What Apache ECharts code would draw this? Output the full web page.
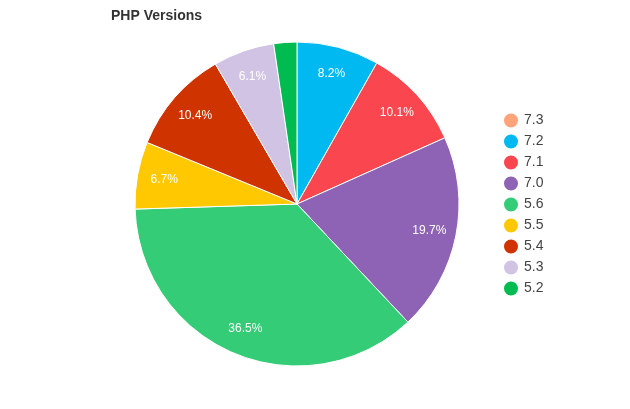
<!DOCTYPE html>
<html><head><meta charset="utf-8">
<script src="https://cdn.jsdelivr.net/npm/echarts@6/dist/echarts.min.js"></script>
<style>html,body{margin:0;padding:0;background:#fff}#c{width:630px;height:409px}</style>
</head><body><div id="c"></div>
<script>
const categories = ['7.3','7.2','7.1','7.0','5.6','5.5','5.4','5.3','5.2'];
const shares = [0, 8.2, 10.1, 19.7, 36.5, 6.7, 10.4, 6.1, 2.3];
const colors = ['#FFA47A','#00B9F1','#F9464F','#8E63B6','#34CC76','#FFC800','#CF3400','#D0C3E3','#00BC50'];

const mainData = categories.map((n,i)=>({name:n, value:shares[i], itemStyle:{color:colors[i]}}));
const labelData = categories.map((n,i)=>({name:n, value:shares[i], itemStyle:{color:'rgba(0,0,0,0)'},
  label:{show: shares[i] >= 5}}));

const chart = echarts.init(document.getElementById('c'), null, {renderer:'canvas'});
chart.setOption({
  animation:false,
  title:{text:'PHP Versions', left:106, top:4, textStyle:{fontSize:14, fontWeight:'bold', color:'#333', fontFamily:'Arial, Liberation Sans, sans-serif'}},
  legend:{orient:'vertical', left:497, top:'middle', icon:'circle', itemWidth:16, itemHeight:16, itemGap:3,
    textStyle:{fontSize:14, lineHeight:14, color:'#444', fontFamily:'Arial, Liberation Sans, sans-serif'},
    data:categories},
  series:[
    {type:'pie', center:[297,204], radius:[0,162], startAngle:90, clockwise:true,
     minAngle:0, avoidLabelOverlap:false, stillShowZeroSum:true,
     itemStyle:{borderColor:'#fff', borderWidth:1},
     label:{show:false}, labelLine:{show:false}, emphasis:{disabled:true},
     data:mainData},
    {type:'pie', center:[297,204], radius:[102,162], startAngle:90, clockwise:true,
     silent:true, avoidLabelOverlap:false, legendHoverLink:false,
     label:{position:'inside', color:'#fff', fontSize:12, fontFamily:'Arial, Liberation Sans, sans-serif',
       formatter: p => p.value.toFixed(1)+'%'},
     labelLine:{show:false}, emphasis:{disabled:true},
     data:labelData}
  ]
});
</script></body></html>
